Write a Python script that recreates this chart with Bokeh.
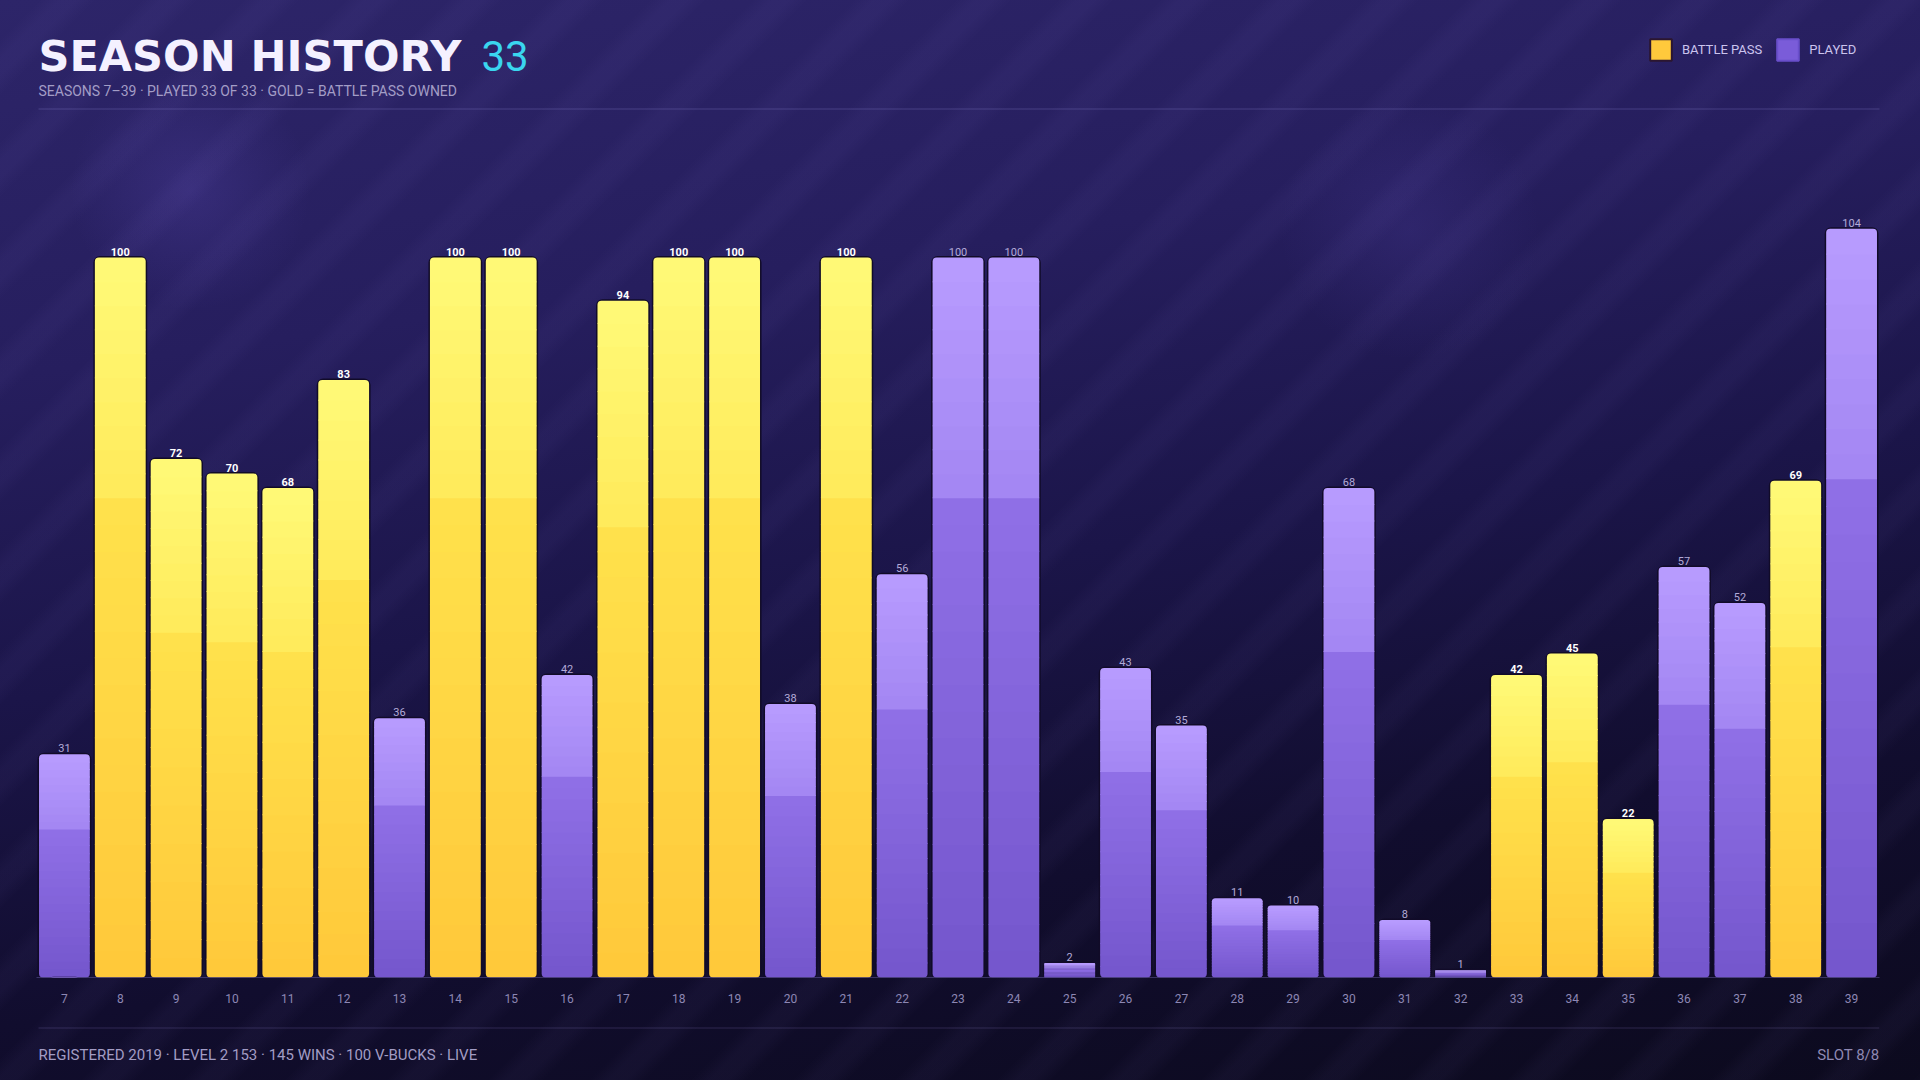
from bokeh.plotting import figure
from bokeh.layouts import column
from bokeh.models import (FactorRange, Range1d, ColumnDataSource, Label, Legend,
                          LegendItem, BoxAnnotation)
from bokeh.core.properties import value
from bokeh.embed import file_html
from bokeh.resources import INLINE

# ---------------- data ----------------
seasons = ["7", "8", "9", "10", "11", "12", "13", "14", "15", "16", "17", "18",
           "19", "20", "21", "22", "23", "24", "25", "26", "27", "28", "29", "30",
           "31", "32", "33", "34", "35", "36", "37", "38", "39"]
levels = [31, 100, 72, 70, 68, 83, 36, 100, 100, 42, 94, 100, 100, 38, 100, 56,
          100, 100, 2, 43, 35, 11, 10, 68, 8, 1, 42, 45, 22, 57, 52, 69, 104]
battle_pass = [0, 1, 1, 1, 1, 1, 0, 1, 1, 0, 1, 1, 1, 0, 1, 0,
               0, 0, 0, 0, 0, 0, 0, 0, 0, 0, 1, 1, 1, 0, 0, 1, 0]

title_text = "SEASON HISTORY"
title_count = "33"
subtitle_text = "SEASONS 7\u201339  \u00b7  PLAYED 33 OF 33  \u00b7  GOLD = BATTLE PASS OWNED"
footer_left = "REGISTERED 2019  \u00b7  LEVEL 2 153  \u00b7  145 WINS  \u00b7  100 V-BUCKS  \u00b7  LIVE"
footer_right = "SLOT 8/8"
legend_labels = ["BATTLE PASS", "PLAYED"]

# ---------------- style ----------------
W, H = 1920, 1080
FOOT_H = 65
TOP_H = H - FOOT_H
LEFT, RIGHT_EDGE, BASE = 36, 1879, 977
PX_PER_UNIT = 7.2
COND = "Roboto"
HEAVY = "DejaVu Sans"

GOLD = ["#fffa78", "#ffea5a", "#ffe24c", "#ffc83a"]      # top-start, top-end, bottom-start, bottom-end
PURPLE = ["#b89cff", "#a386f2", "#9070e7", "#7456cc"]
N_TOP, N_BOT = 10, 18
BAR_W = 0.91
OV = 0.12  # small overlap between gradient bands (data units) to avoid seams


def hex2rgb(h):
    h = h.lstrip("#")
    return tuple(int(h[i:i + 2], 16) for i in (0, 2, 4))


def lerp(c1, c2, t):
    a, b = hex2rgb(c1), hex2rgb(c2)
    return "#%02x%02x%02x" % tuple(int(round(a[i] + (b[i] - a[i]) * t)) for i in range(3))


# build band table (gradient approximation) from the data
mid = dict(x=[], b=[], t=[], c=[])
cap = dict(x=[], b=[], t=[], c=[])
foot = dict(x=[], b=[], t=[], c=[])
for s, v, bp in zip(seasons, levels, battle_pass):
    pal = GOLD if bp else PURPLE
    split = v * 2.0 / 3.0
    ov = min(OV, v / 40.0)
    for k in range(N_BOT):
        b0, b1 = split * k / N_BOT, split * (k + 1) / N_BOT
        col = lerp(pal[3], pal[2], (k + 0.5) / N_BOT)
        tgt = foot if k == 0 else mid
        tgt["x"].append(s); tgt["b"].append(b0 - (ov if k else 0)); tgt["t"].append(b1); tgt["c"].append(col)
    for k in range(N_TOP):
        b0 = split + (v - split) * k / N_TOP
        b1 = split + (v - split) * (k + 1) / N_TOP
        col = lerp(pal[1], pal[0], (k + 0.5) / N_TOP)
        tgt = cap if k == N_TOP - 1 else mid
        tgt["x"].append(s); tgt["b"].append(b0 - ov); tgt["t"].append(b1); tgt["c"].append(col)

p = figure(width=W, height=TOP_H,
           x_range=FactorRange(factors=seasons, range_padding=0),
           y_range=Range1d(0, BASE / PX_PER_UNIT),
           min_border_left=LEFT, min_border_right=W - RIGHT_EDGE,
           min_border_top=0, min_border_bottom=TOP_H - BASE,
           output_backend="svg", toolbar_location=None,
           background_fill_alpha=0, border_fill_alpha=0, outline_line_color=None)
p.grid.visible = False
p.yaxis.visible = False

xa = p.xaxis[0]
xa.axis_line_color = "#8a7fd0"
xa.axis_line_alpha = 0.35
xa.axis_line_width = 1
xa.major_tick_line_color = None
xa.minor_tick_line_color = None
xa.major_label_standoff = 10
xa.major_label_text_font = COND
xa.major_label_text_font_size = "12px"
xa.major_label_text_color = "#8d87b4"

# dark outline behind each bar
outline_src = ColumnDataSource(dict(x=seasons, top=levels))
p.vbar(x="x", top="top", bottom=0, width=BAR_W, source=outline_src,
       fill_color="#110b28", line_color="#110b28", line_width=3, border_radius=5)

p.vbar(x="x", bottom="b", top="t", width=BAR_W, source=ColumnDataSource(mid),
       fill_color="c", line_color=None)
p.vbar(x="x", bottom="b", top="t", width=BAR_W, source=ColumnDataSource(foot),
       fill_color="c", line_color=None, border_radius=(0, 0, 4, 4))
p.vbar(x="x", bottom="b", top="t", width=BAR_W, source=ColumnDataSource(cap),
       fill_color="c", line_color=None, border_radius=(4, 4, 0, 0))

# value labels
gold_lab = dict(x=[], y=[], txt=[])
purp_lab = dict(x=[], y=[], txt=[])
for s, v, bp in zip(seasons, levels, battle_pass):
    d = gold_lab if bp else purp_lab
    d["x"].append(s); d["y"].append(v); d["txt"].append(str(v))
p.text(x="x", y="y", text="txt", source=ColumnDataSource(gold_lab),
       text_align="center", text_baseline="alphabetic", y_offset=-6,
       text_font=value(COND), text_font_size="11px", text_font_style="bold",
       text_color="#ffffff")
p.text(x="x", y="y", text="txt", source=ColumnDataSource(purp_lab),
       text_align="center", text_baseline="alphabetic", y_offset=-6,
       text_font=value(COND), text_font_size="11px",
       text_color="#b3abd8")

# legend: swatch renderers hold one bar placed below the visible y-range
r_gold = p.vbar(x=[seasons[0]], bottom=[-30], top=[-20], width=0.5,
                fill_color="#ffc93c", line_color="#2b1630", line_width=2,
                border_radius=4)
r_purp = p.vbar(x=[seasons[0]], bottom=[-30], top=[-20], width=0.5,
                fill_color="#7a5cd9", line_color="#6a4fcc", line_width=2,
                border_radius=4)
legend = Legend(items=[LegendItem(label=legend_labels[0], renderers=[r_gold]),
                       LegendItem(label=legend_labels[1], renderers=[r_purp])],
                orientation="horizontal", location=(1647 - LEFT, BASE - 63),
                glyph_width=27, glyph_height=27, label_height=27,
                label_standoff=8, spacing=12, padding=0, margin=0,
                background_fill_alpha=0, border_line_alpha=0,
                label_text_font=COND, label_text_font_size="13px",
                label_text_color="#cbc4ee")
p.add_layout(legend, "center")


# title / subtitle (screen units relative to the plot frame, whose top is the canvas top)
def sx(X):
    return X - LEFT


def sy(Y):
    return BASE - Y


p.add_layout(Label(x=sx(38), y=sy(55), x_units="screen", y_units="screen",
                   text=title_text, text_font=HEAVY, text_font_size="43px",
                   text_font_style="bold", text_color="#f4f1ff",
                   text_baseline="middle"))
p.add_layout(Label(x=sx(481), y=sy(55), x_units="screen", y_units="screen",
                   text=title_count, text_font=COND, text_font_size="42px",
                   text_color="#3ad6ef", text_baseline="middle"))
p.add_layout(Label(x=sx(38), y=sy(90.5), x_units="screen", y_units="screen",
                   text=subtitle_text, text_font=COND, text_font_size="14px",
                   text_color="#a39dc6", text_baseline="middle"))
p.add_layout(BoxAnnotation(left=sx(38), right=sx(1880), bottom=sy(109), top=sy(108),
                           left_units="screen", right_units="screen",
                           bottom_units="screen", top_units="screen",
                           fill_color="#9a8ee0", fill_alpha=0.28, line_alpha=0))

# ---------------- footer strip (frame aligned with the chart's frame) ----------------
f = figure(width=W, height=FOOT_H, x_range=Range1d(LEFT, RIGHT_EDGE),
           y_range=Range1d(0, FOOT_H),
           min_border_left=LEFT, min_border_right=W - RIGHT_EDGE,
           min_border_top=0, min_border_bottom=0,
           output_backend="svg", toolbar_location=None,
           background_fill_alpha=0, border_fill_alpha=0, outline_line_color=None)
f.axis.visible = False
f.grid.visible = False


def fy(Y):  # canvas y -> footer data y
    return H - Y


f.add_layout(BoxAnnotation(left=38, right=RIGHT_EDGE, bottom=fy(1028), top=fy(1027),
                           fill_color="#9a8ee0", fill_alpha=0.22, line_alpha=0))
f.add_layout(Label(x=38, y=fy(1054.5), text=footer_left, text_font=COND,
                   text_font_size="15px", text_color="#a29cc4",
                   text_baseline="middle"))
f.add_layout(Label(x=RIGHT_EDGE, y=fy(1054.5), text=footer_right, text_font=COND,
                   text_font_size="15px", text_color="#8f89b3",
                   text_baseline="middle", text_align="right"))

layout = column(p, f, spacing=0)

html = file_html(layout, INLINE, title="Season History")
css = """<style>
html, body { margin: 0 !important; padding: 0 !important; overflow: hidden; }
body {
  width: 1920px; height: 1080px;
  background-color: #15103a;
  background-image:
    repeating-linear-gradient(135deg, rgba(170,150,255,0) 0px, rgba(170,150,255,0) 28px,
                              rgba(170,150,255,0.04) 42px, rgba(170,150,255,0.04) 54px,
                              rgba(170,150,255,0) 68px, rgba(170,150,255,0) 72px),
    radial-gradient(circle at 190px 190px, rgba(110,90,210,0.20) 0px, rgba(110,90,210,0) 120px),
    radial-gradient(circle at 1410px 230px, rgba(110,90,210,0.14) 0px, rgba(110,90,210,0) 130px),
    linear-gradient(172deg, #2d2569 0%, #261e5e 28%, #1b1549 52%, #110d2e 76%, #0c0a1e 100%);
}
</style>
</head>"""
html = html.replace("</head>", css, 1)
open("out.html", "w").write(html)
